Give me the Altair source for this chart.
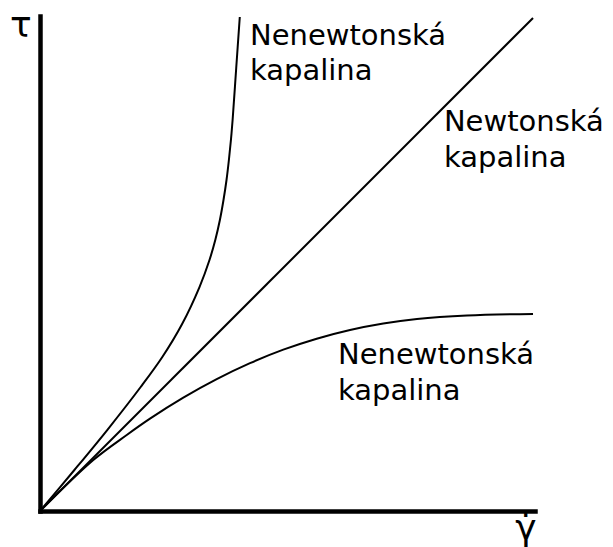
import altair as alt
import pandas as pd

# Curves (arbitrary units, 0..10 on both axes)
newton_x = [0.0, 9.96]
newton_y = [0.0, 9.96]

upper_x = [0.0, 0.695, 1.358, 2.034, 2.471, 2.871, 3.222, 3.424, 3.541, 3.634, 3.707, 3.768, 3.816, 3.857, 3.891, 3.964, 4.036]
upper_y = [0.0, 0.828, 1.636, 2.505, 3.111, 3.778, 4.525, 5.071, 5.475, 5.879, 6.283, 6.687, 7.091, 7.495, 7.899, 8.949, 9.98]

lower_x = [0.0, 1.077, 1.752, 2.222, 2.895, 3.570, 4.242, 4.915, 5.590, 6.263, 6.935, 7.616, 8.626, 9.96]
lower_y = [0.0, 1.030, 1.535, 1.865, 2.289, 2.663, 2.986, 3.259, 3.481, 3.657, 3.788, 3.879, 3.949, 3.982]

label_text = ["Nenewtonská", "kapalina", "Newtonská", "kapalina", "Nenewtonská", "kapalina"]
label_x = [4.242, 4.242, 8.16, 8.16, 6.02, 6.02]
label_y = [9.414, 8.707, 7.677, 6.949, 2.97, 2.242]

axis_sym = ["τ", "γ̇"]
axis_sym_x = [-0.606, 9.6]
axis_sym_y = [9.576, -0.58]

rows = []
for name, xs, ys in [("newton", newton_x, newton_y), ("upper", upper_x, upper_y), ("lower", lower_x, lower_y)]:
    for i, (a, b) in enumerate(zip(xs, ys)):
        rows.append({"curve": name, "x": a, "y": b, "order": i})
curves = pd.DataFrame(rows)
labels = pd.DataFrame({"t": label_text, "x": label_x, "y": label_y})
syms = pd.DataFrame({"t": axis_sym, "x": axis_sym_x, "y": axis_sym_y})

xs = alt.Scale(domain=[0, 10], nice=False, zero=False)
ys = alt.Scale(domain=[0, 10], nice=False, zero=False)
ax = alt.Axis(labels=False, ticks=False, grid=False, title=None, domainWidth=4.5,
              domainColor="black", domainCap="square")

lines = alt.Chart(curves).mark_line(color="black", strokeWidth=2, interpolate="catmull-rom").encode(
    x=alt.X("x:Q", scale=xs, axis=ax),
    y=alt.Y("y:Q", scale=ys, axis=ax),
    detail="curve:N",
    order="order:Q",
)

texts = alt.Chart(labels).mark_text(align="left", baseline="alphabetic", font="DejaVu Sans",
                                    fontSize=29, color="black").encode(
    x=alt.X("x:Q", scale=xs), y=alt.Y("y:Q", scale=ys), text="t:N")

symtexts = alt.Chart(syms).mark_text(align="left", baseline="alphabetic", font="DejaVu Sans",
                                     fontSize=36, color="black").encode(
    x=alt.X("x:Q", scale=xs), y=alt.Y("y:Q", scale=ys), text="t:N")

chart = alt.layer(lines, texts, symtexts).properties(
    width=495, height=495,
    autosize=alt.AutoSizeParams(type="none"),
    padding={"left": 32, "top": 8, "right": 70, "bottom": 36},
    background="white",
).configure_view(stroke=None)

chart.save("out.html", embed_options={"renderer": "svg", "actions": False})
